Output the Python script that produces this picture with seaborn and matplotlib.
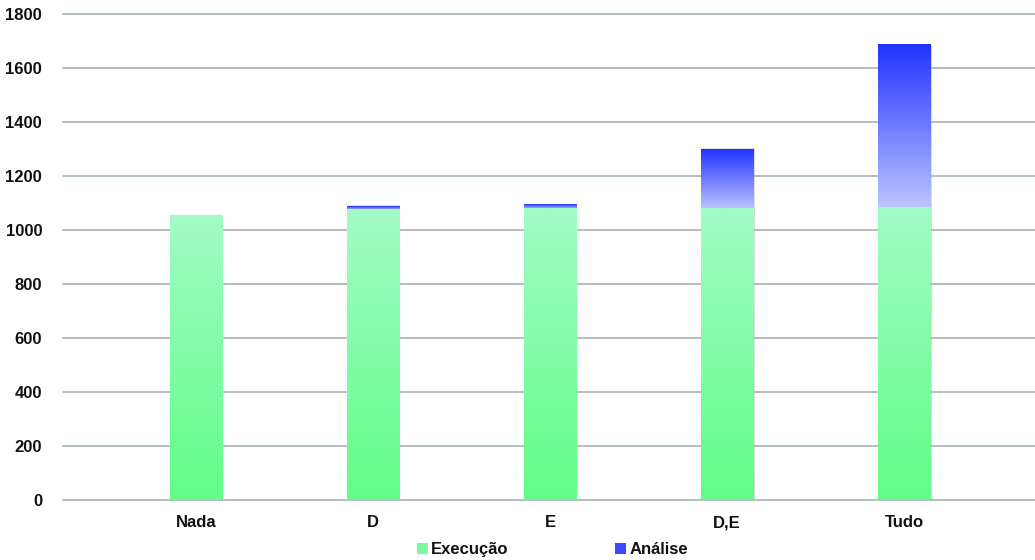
import numpy as np
import pandas as pd
import matplotlib
matplotlib.use("Agg")
import matplotlib.pyplot as plt
import seaborn as sns
from matplotlib.colors import LinearSegmentedColormap
from matplotlib.patches import Patch

categories = ["Nada", "D", "E", "D,E", "Tudo"]
execucao = [1052, 1075, 1078, 1078, 1084]
analise = [0, 14, 15, 222, 601]
yticks = [0, 200, 400, 600, 800, 1000, 1200, 1400, 1600, 1800]

totals = [e + a for e, a in zip(execucao, analise)]
df = pd.DataFrame({"cat": categories, "exec": execucao, "total": totals})

sns.set_theme(style="white")
plt.rcParams["font.family"] = ["Liberation Sans", "DejaVu Sans"]
plt.rcParams["font.weight"] = "bold"
plt.rcParams["text.color"] = "#111111"
plt.rcParams["xtick.color"] = "#111111"
plt.rcParams["ytick.color"] = "#111111"

fig = plt.figure(figsize=(10.35, 5.6), dpi=100)
ax = fig.add_axes([63 / 1035, 1 - 500 / 560, 1 - 63 / 1035, (500 - 14) / 560])

bw = 0.295
sns.barplot(data=df, x="cat", y="total", color="#2233ff", width=bw, ax=ax,
            saturation=1, zorder=3)
n_blue = len(ax.patches)
sns.barplot(data=df, x="cat", y="exec", color="#66ff88", width=bw, ax=ax,
            saturation=1, zorder=4)

green_cmap = LinearSegmentedColormap.from_list("g", ["#62fd86", "#a2fbc6"])
blue_cmap = LinearSegmentedColormap.from_list("b", ["#bcc3ff", "#2233ff"])
grad = np.linspace(0, 1, 256).reshape(-1, 1)

for i, p in enumerate(ax.patches):
    x0, y0 = p.get_x(), p.get_y()
    w, h = p.get_width(), p.get_height()
    if h <= 0:
        continue
    is_blue = i < n_blue
    p.set_facecolor("none")
    p.set_edgecolor("none")
    if is_blue:
        ex = execucao[i]
        ext = [x0, x0 + w, ex, y0 + h]
        cmap = blue_cmap
        z = 3.5
    else:
        ext = [x0, x0 + w, y0, y0 + h]
        cmap = green_cmap
        z = 4.5
    if ext[3] <= ext[2]:
        continue
    # soft shadow
    ax.add_patch(plt.Rectangle((x0 + 0.008, ext[2]), w, ext[3] - ext[2] + 2,
                               facecolor="#999999", alpha=0.35, edgecolor="none",
                               zorder=z - 0.3))
    ax.imshow(grad, cmap=cmap, aspect="auto", extent=ext, origin="lower",
              zorder=z, interpolation="bilinear")

ax.set_xlim(-0.751, 4.74)
ax.set_ylim(0, 1800)
ax.set_yticks(yticks)
ax.set_yticklabels([str(v) for v in yticks], fontsize=12)
ax.set_xlabel("")
ax.set_ylabel("")
ax.tick_params(axis="x", labelsize=12, pad=11, length=0)
ax.tick_params(axis="y", pad=15, length=0)
ax.grid(axis="y", color="#b2bebe", linewidth=1.4, zorder=1)
ax.set_axisbelow(True)
for s in ax.spines.values():
    s.set_visible(False)
for line in ax.get_ygridlines():
    line.set_clip_on(False)

handles = [Patch(facecolor="#7afb9c", edgecolor="none"),
           Patch(facecolor="#3a48ff", edgecolor="none")]
fig.legend(handles, ["Execução", "Análise"], loc="lower center",
           bbox_to_anchor=(0.534, -0.022), ncol=2, frameon=False,
           fontsize=12, columnspacing=6.4, handlelength=0.65, handleheight=0.65,
           handletextpad=0.2)

fig.savefig("out.png", dpi=100)
